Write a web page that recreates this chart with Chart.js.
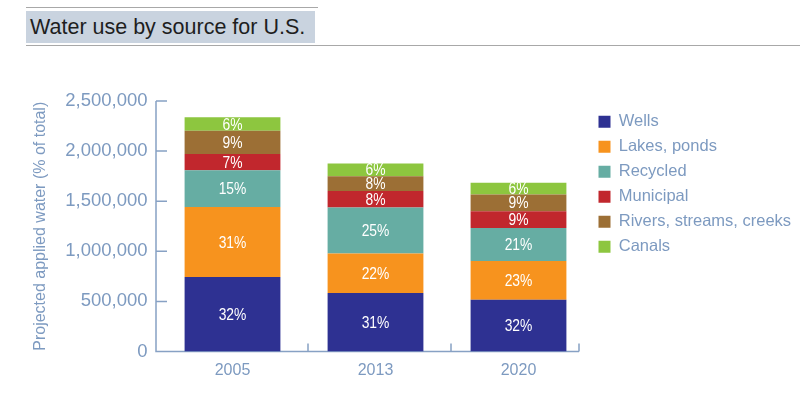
<!DOCTYPE html>
<html lang="en">
<head>
    <meta charset="UTF-8">
    <title>Water use by source for U.S.</title>
    <script src="https://cdn.jsdelivr.net/npm/chart.js@4.4.1/dist/chart.umd.min.js"></script>
    <style>
        body { margin: 0; background: #fff; }
        #wrap { position: relative; width: 800px; height: 399px; overflow: hidden; }
        .topLine { position: absolute; left: 26px; top: 7px; width: 292px; height: 1px; background: #a8a8a8; }
        .titleBox {
            position: absolute; left: 26px; top: 11px; width: 289px; height: 32px;
            background: #c9d3df; color: #1e1e1e; box-sizing: border-box; padding-left: 4px;
            font: 21.5px 'Liberation Sans', Arial, sans-serif; line-height: 32px; white-space: nowrap;
        }
        .bottomLine { position: absolute; left: 26px; top: 45px; right: 0; height: 1px; background: #a8a8a8; }
        #chartBox { position: absolute; left: 0; top: 0; width: 800px; height: 399px; }
    </style>
</head>
<body>
    <div id="wrap">
        <div id="chartBox"><canvas id="chart"></canvas></div>
        <div class="topLine"></div>
        <div class="titleBox">Water use by source for U.S.</div>
        <div class="bottomLine"></div>
    </div>
    <script>
        // data
        const years = ['2005', '2013', '2020'];
        const seriesNames = ['Wells', 'Lakes, ponds', 'Recycled', 'Municipal', 'Rivers, streams, creeks', 'Canals'];
        const wells     = [743000, 583000, 517000];
        const lakes     = [700000, 394000, 386000];
        const recycled  = [367000, 460000, 330000];
        const municipal = [160000, 166000, 167000];
        const rivers    = [233000, 147000, 167000];
        const canals    = [134000, 127000, 116000];
        const wellsPct     = ['32%', '31%', '32%'];
        const lakesPct     = ['31%', '22%', '23%'];
        const recycledPct  = ['15%', '25%', '21%'];
        const municipalPct = ['7%', '8%', '9%'];
        const riversPct    = ['9%', '8%', '9%'];
        const canalsPct    = ['6%', '6%', '6%'];
        const yTicks = [0, 500000, 1000000, 1500000, 2000000, 2500000];

        const values = [wells, lakes, recycled, municipal, rivers, canals];
        const pctLabels = [wellsPct, lakesPct, recycledPct, municipalPct, riversPct, canalsPct];

        // styles
        const colors = ['#2e3192', '#f7931e', '#66ada3', '#c1272d', '#9c6f35', '#8dc63f'];
        const textColor = '#7d9ac0';
        const axisColor = '#87a1c4';
        const sans = "'Liberation Sans', Arial, sans-serif";

        // axis lines with inward ticks, like the original
        const drawAxes = {
            id: 'drawAxes',
            beforeDatasetsDraw(chart) {
                const {ctx, chartArea, scales: {x, y}} = chart;
                const x0 = chartArea.left - 5;
                const x1 = chartArea.right - 11;
                const yb = y.getPixelForValue(0);
                ctx.save();
                ctx.strokeStyle = axisColor;
                ctx.lineWidth = 1.5;
                ctx.beginPath();
                ctx.moveTo(x0, y.getPixelForValue(yTicks[yTicks.length - 1]));
                ctx.lineTo(x0, yb);
                ctx.lineTo(x1, yb);
                y.ticks.forEach(t => {
                    const py = y.getPixelForValue(t.value);
                    ctx.moveTo(x0, py);
                    ctx.lineTo(x0 + 11, py);
                });
                for (let i = 0; i < years.length - 1; i++) {
                    const px = (x.getPixelForValue(i) + x.getPixelForValue(i + 1)) / 2 + 4;
                    ctx.moveTo(px, yb);
                    ctx.lineTo(px, yb - 8);
                }
                ctx.moveTo(x1, yb);
                ctx.lineTo(x1, yb - 8);
                ctx.stroke();
                ctx.restore();
            }
        };

        // percentage text in the middle of each segment (condensed a bit)
        const segmentLabels = {
            id: 'segmentLabels',
            afterDatasetsDraw(chart) {
                const ctx = chart.ctx;
                chart.data.datasets.forEach((ds, di) => {
                    chart.getDatasetMeta(di).data.forEach((bar, i) => {
                        ctx.save();
                        ctx.fillStyle = '#ffffff';
                        ctx.font = '16.5px ' + sans;
                        ctx.textAlign = 'center';
                        ctx.textBaseline = 'middle';
                        ctx.translate(bar.x, (bar.y + bar.base) / 2 + 1);
                        ctx.scale(0.84, 1);
                        ctx.fillText(pctLabels[di][i], 0, 0);
                        ctx.restore();
                    });
                });
            }
        };

        new Chart(document.getElementById('chart'), {
            type: 'bar',
            data: {
                labels: years,
                datasets: seriesNames.map((name, i) => ({
                    label: name,
                    data: values[i],
                    backgroundColor: colors[i],
                    borderWidth: 0,
                    barPercentage: 0.67,
                    categoryPercentage: 1
                }))
            },
            options: {
                responsive: true,
                maintainAspectRatio: false,
                animation: false,
                layout: { padding: { top: 101, right: 0, bottom: 0, left: 0 } },
                scales: {
                    x: {
                        stacked: true,
                        grid: { display: false, drawTicks: false },
                        border: { display: false },
                        ticks: { color: textColor, padding: 9, font: { family: sans, size: 16 } },
                        afterFit(s) { s.height = 47.5; }
                    },
                    y: {
                        stacked: true,
                        min: 0,
                        max: 2500000,
                        grid: { display: false, drawTicks: false },
                        border: { display: false },
                        afterBuildTicks(s) { s.ticks = yTicks.map(v => ({ value: v })); },
                        ticks: {
                            color: textColor,
                            padding: 13.5,
                            font: { family: sans, size: 18.5 },
                            callback: v => v.toLocaleString('en-US')
                        },
                        title: {
                            display: true,
                            text: 'Projected applied water (% of total)',
                            color: textColor,
                            font: { family: sans, size: 16 },
                            padding: { top: 30.5, bottom: 0 }
                        },
                        afterFit(s) { s.width = 161; }
                    }
                },
                plugins: {
                    legend: {
                        position: 'right',
                        align: 'start',
                        maxWidth: 210,
                        title: { display: true, text: ' ', font: { size: 4, lineHeight: 1 }, padding: 0 },
                        labels: {
                            boxWidth: 12,
                            boxHeight: 12,
                            padding: 8.5,
                            color: textColor,
                            font: { family: sans, size: 16.5 }
                        }
                    },
                    tooltip: { enabled: false }
                }
            },
            plugins: [drawAxes, segmentLabels]
        });
    </script>
</body>
</html>
